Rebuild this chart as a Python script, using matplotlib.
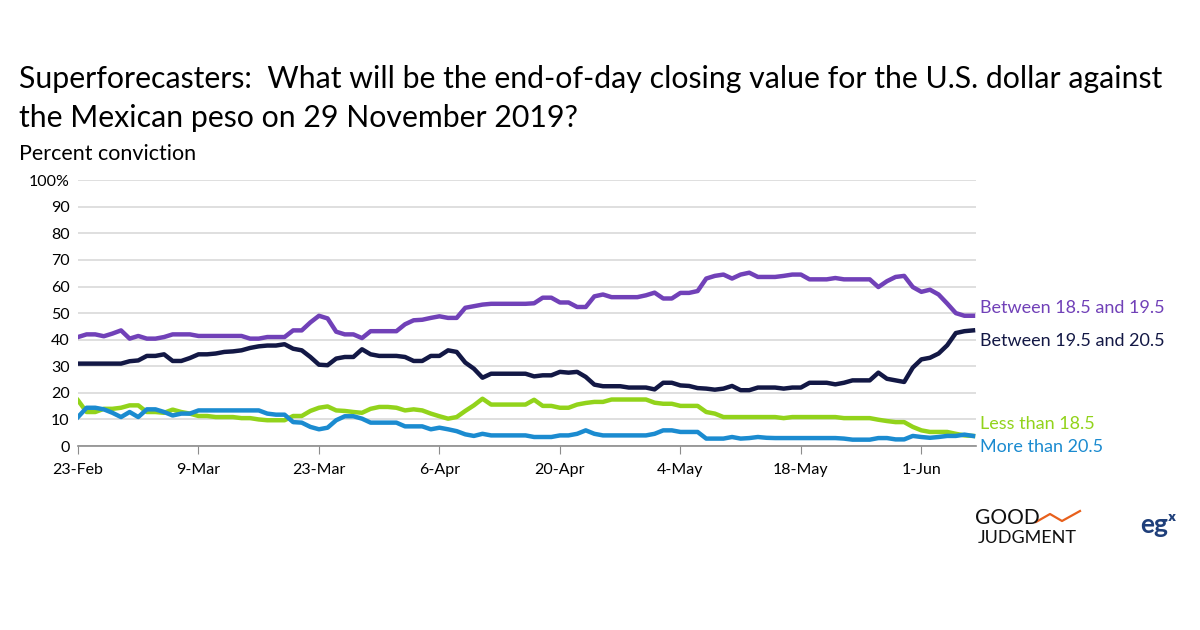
import matplotlib
matplotlib.use("Agg")
import matplotlib.pyplot as plt
import pandas as pd

plt.rcParams['font.family'] = ['Lato', 'DejaVu Sans']

# daily values, 23-Feb-2019 .. 7-Jun-2019 (percent conviction)
start_date = '2019-02-23'

between_185_195 = [
    41, 42, 42, 41.3, 42.3, 43.5, 40.4, 41.4, 40.4, 40.4,
    41, 42, 42, 42, 41.4, 41.4, 41.4, 41.4, 41.4, 41.4,
    40.4, 40.4, 41, 41, 41, 43.5, 43.5, 46.5, 49, 48,
    43, 42, 42, 40.6, 43.2, 43.2, 43.2, 43.2, 45.8, 47.3,
    47.5, 48.2, 48.8, 48.2, 48.2, 52, 52.6, 53.2, 53.5, 53.5,
    53.5, 53.5, 53.5, 53.7, 55.8, 55.8, 54, 54, 52.3, 52.3,
    56.3, 57, 56, 56, 56, 56, 56.7, 57.7, 55.5, 55.5,
    57.6, 57.6, 58.3, 63, 64, 64.5, 63, 64.5, 65.2, 63.6,
    63.6, 63.6, 64, 64.5, 64.5, 62.7, 62.7, 62.7, 63.2, 62.7,
    62.7, 62.7, 62.7, 59.8, 62, 63.6, 64, 59.8, 58, 58.8,
    57, 53.6, 50, 49, 49,
]

between_195_205 = [
    31, 31, 31, 31, 31, 31, 31.9, 32.2, 33.9, 33.9,
    34.5, 32, 32, 33.1, 34.5, 34.5, 34.8, 35.4, 35.6, 36,
    36.9, 37.5, 37.8, 37.8, 38.3, 36.6, 36, 33.5, 30.6, 30.4,
    32.9, 33.5, 33.5, 36.4, 34.5, 33.9, 33.9, 33.9, 33.5, 32,
    32, 33.9, 33.9, 36, 35.4, 31.4, 29.1, 25.7, 27.2, 27.2,
    27.2, 27.2, 27.2, 26.2, 26.6, 26.6, 27.9, 27.6, 27.9, 26,
    23.1, 22.5, 22.5, 22.5, 22, 22, 22, 21.3, 23.8, 23.8,
    22.8, 22.6, 21.8, 21.6, 21.2, 21.6, 22.6, 21, 21, 22,
    22, 22, 21.6, 22, 22, 23.8, 23.8, 23.8, 23.2, 23.8,
    24.7, 24.7, 24.7, 27.6, 25.3, 24.7, 24.1, 29.5, 32.6, 33.2,
    34.8, 37.9, 42.5, 43.2, 43.5,
]

less_than_185 = [
    17.2, 12.8, 12.8, 14, 14, 14.4, 15.3, 15.3, 12.8, 12.8,
    12.5, 13.7, 12.8, 12.2, 11.3, 11.3, 10.9, 10.9, 10.9, 10.5,
    10.5, 10, 9.7, 9.7, 9.7, 11.3, 11.3, 13.2, 14.4, 14.9,
    13.4, 13.2, 12.8, 12.5, 14, 14.7, 14.7, 14.4, 13.4, 13.8,
    13.4, 12.2, 11.2, 10.3, 10.9, 13.2, 15.3, 17.8, 15.6, 15.6,
    15.6, 15.6, 15.6, 17.4, 15.1, 15.1, 14.4, 14.4, 15.6, 16.2,
    16.6, 16.6, 17.5, 17.5, 17.5, 17.5, 17.5, 16.3, 15.9, 15.9,
    15.1, 15.1, 15.1, 12.8, 12.2, 10.9, 10.9, 10.9, 10.9, 10.9,
    10.9, 10.9, 10.5, 10.9, 10.9, 10.9, 10.9, 10.9, 10.9, 10.5,
    10.5, 10.5, 10.5, 9.9, 9.4, 9, 9, 7.2, 5.9, 5.3,
    5.3, 5.3, 4.6, 4, 3.8,
]

more_than_205 = [
    10.9, 14.4, 14.4, 13.8, 12.5, 10.9, 12.8, 10.9, 13.8, 13.8,
    12.8, 11.5, 12.2, 12.2, 13.4, 13.4, 13.4, 13.4, 13.4, 13.4,
    13.4, 13.4, 12.2, 11.8, 11.8, 9, 8.8, 7.2, 6.3, 6.9,
    9.7, 11.2, 11.2, 10.3, 8.8, 8.8, 8.8, 8.8, 7.4, 7.4,
    7.4, 6.3, 6.9, 6.3, 5.6, 4.4, 3.8, 4.6, 4, 4,
    4, 4, 4, 3.4, 3.4, 3.4, 4, 4, 4.6, 5.9,
    4.6, 4, 4, 4, 4, 4, 4, 4.6, 5.9, 5.9,
    5.3, 5.3, 5.3, 2.8, 2.8, 2.8, 3.4, 2.8, 3, 3.4,
    3.1, 3, 3, 3, 3, 3, 3, 3, 3, 2.8,
    2.4, 2.4, 2.4, 3, 3, 2.5, 2.5, 3.8, 3.4, 3.1,
    3.4, 3.8, 3.8, 4.3, 3.8,
]

series_names = ['Between 18.5 and 19.5', 'Between 19.5 and 20.5',
                'Less than 18.5', 'More than 20.5']
tick_labels = ['23-Feb', '9-Mar', '23-Mar', '6-Apr', '20-Apr', '4-May', '18-May', '1-Jun']

colors = ['#7141b8', '#131845', '#92d31b', '#1b8bd0']
dates = pd.date_range(start_date, periods=len(between_185_195), freq='D')

fig = plt.figure(figsize=(12, 6.3), dpi=100)
ax = fig.add_axes([0.065, 0.292, 0.748, 0.422])

all_series = [between_185_195, between_195_205, less_than_185, more_than_205]
for vals, col in zip(all_series, colors):
    ax.plot(dates, vals, color=col, lw=3.2, solid_joinstyle='round', zorder=3)

ax.set_ylim(0, 100)
ax.set_xlim(dates[0], dates[-1] + pd.Timedelta(days=0.3))
ax.set_yticks(range(0, 101, 10))
ax.set_yticklabels([str(v) for v in range(0, 100, 10)] + ['100%'])
ax.yaxis.grid(True, color='#d9d9d9', lw=1.2)
ax.set_axisbelow(True)
ax.tick_params(axis='y', length=0, labelsize=11.5, pad=6)

tick_dates = pd.date_range(start_date, periods=len(tick_labels), freq='14D')
ax.set_xticks(tick_dates)
ax.set_xticklabels(tick_labels)
ax.tick_params(axis='x', direction='out', length=6, color='#8c8c8c', labelsize=11.5, pad=6)

for s in ['top', 'right', 'left']:
    ax.spines[s].set_visible(False)
ax.spines['bottom'].set_color('#8c8c8c')
ax.spines['bottom'].set_linewidth(1.2)

# Titre
fig.text(0.016, 0.875, 'Superforecasters:  What will be the end-of-day closing value for the U.S. dollar against',
         fontsize=21.8, color='#000000', va='center')
fig.text(0.016, 0.812, 'the Mexican peso on 29 November 2019?',
         fontsize=21.8, color='#000000', va='center')
fig.text(0.016, 0.755, 'Percent conviction', fontsize=15.5, va='center')

# étiquettes à droite
label_y = [308, 341, 424, 447]
for name, col, py in zip(series_names, colors, label_y):
    fig.text(980 / 1200, 1 - py / 630, name, color=col, fontsize=13, va='center')

# logos (approx.)
fig.text(975 / 1200, 1 - 518 / 630, 'GOOD', fontsize=15, va='center', color='#111111')
fig.text(978 / 1200, 1 - 538 / 630, 'JUDGMENT', fontsize=13, va='center', color='#111111')
fig.lines.append(plt.Line2D([1036 / 1200, 1050 / 1200, 1062 / 1200, 1080 / 1200],
                            [1 - 522 / 630, 1 - 514 / 630, 1 - 521 / 630, 1 - 511 / 630],
                            transform=fig.transFigure, color='#e8601c', lw=1.6))
fig.text(1140 / 1200, 1 - 525 / 630, 'egˣ', fontsize=19, fontweight='bold', va='center',
         color='#1f3f7a')

fig.savefig('out.png', dpi=100)
